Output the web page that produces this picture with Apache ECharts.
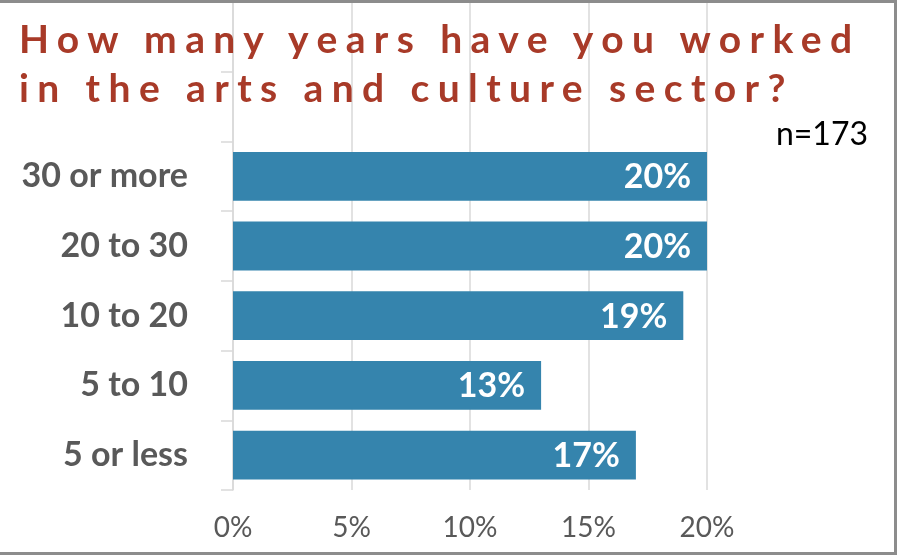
<!DOCTYPE html>
<html>
<head>
<meta charset="utf-8">
<script src="https://cdn.jsdelivr.net/npm/echarts@6/dist/echarts.min.js"></script>
<style>
html,body{margin:0;padding:0;background:#fff;}
#frame{position:absolute;left:0;top:0;width:897px;height:555px;box-sizing:border-box;border-top:3px solid #8c8c8c;border-right:3px solid #8c8c8c;border-bottom:3px solid #8c8c8c;}
#chart{position:absolute;left:0;top:0;width:897px;height:555px;}
#title{position:absolute;left:19px;top:14px;font-family:Lato,'Open Sans',sans-serif;font-weight:bold;font-size:39px;line-height:49px;letter-spacing:8.4px;color:#A83A28;pointer-events:none;white-space:nowrap;}
</style>
</head>
<body>
<div id="chart"></div>
<div id="title">How many years have you worked<br>in the arts and culture sector?</div>
<div id="frame"></div>
<script>
// data (bottom to top); two empty slots at the top sit under the title
const categories = ['5 or less', '5 to 10', '10 to 20', '20 to 30', '30 or more', '', ''];
const values = [17, 13, 19, 20, 20, null, null];
const xTicks = [0, 5, 10, 15, 20];
const sampleNote = 'n=173';

const chart = echarts.init(document.getElementById('chart'), null, {renderer: 'canvas'});
chart.setOption({
  animation: false,
  grid: {left: 233, right: 190, top: 2, bottom: 65, containLabel: false},
  xAxis: {
    type: 'value', min: xTicks[0], max: xTicks[xTicks.length - 1], interval: 5,
    axisLine: {show: false}, axisTick: {show: false},
    splitLine: {show: true, lineStyle: {color: '#d9d9d9', width: 1.5}},
    axisLabel: {formatter: '{value}%', color: '#595959', fontSize: 28, fontFamily: 'Lato, sans-serif', margin: 24}
  },
  yAxis: {
    type: 'category', data: categories,
    axisLine: {show: true, lineStyle: {color: '#d9d9d9', width: 1.5}},
    axisTick: {show: true, length: 12, lineStyle: {color: '#d9d9d9', width: 1.5}},
    axisLabel: {color: '#595959', fontSize: 34, fontWeight: 'bold', fontFamily: 'Lato, sans-serif', margin: 45}
  },
  graphic: [{
    type: 'text', right: 29, top: 119,
    style: {text: sampleNote, fill: '#000', fontSize: 32, fontFamily: 'Lato, sans-serif'}
  }],
  series: [{
    type: 'bar', data: values, barCategoryGap: '30%',
    itemStyle: {color: '#3584AD'},
    label: {show: true, position: 'insideRight', offset: [-2, 1], formatter: '{c}%', color: '#fff', fontSize: 34, fontWeight: 'bold', fontFamily: 'Lato, sans-serif', distance: 14}
  }]
});
</script>
</body>
</html>
